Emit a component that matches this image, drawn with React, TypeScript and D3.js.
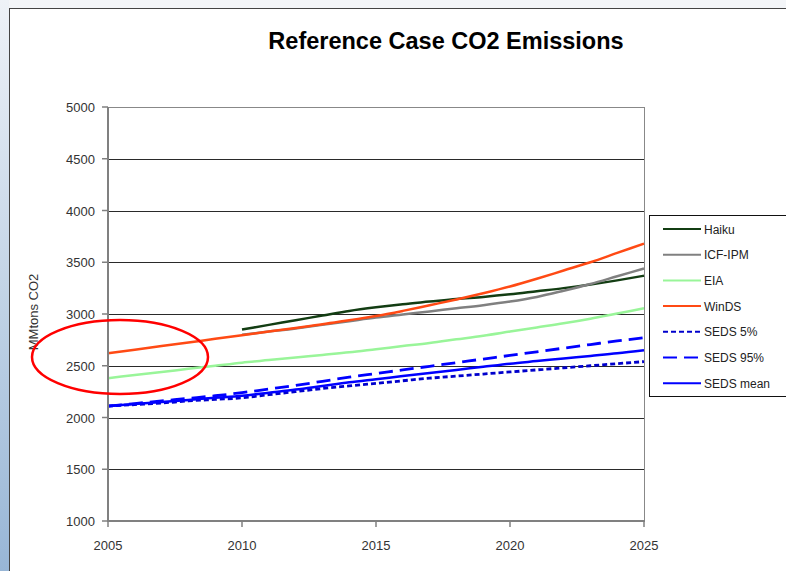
import { scaleLinear, line as d3_line, curveMonotoneX } from "d3";

const years = [2005, 2006, 2007, 2008, 2009, 2010, 2011, 2012, 2013, 2014, 2015, 2016, 2017, 2018, 2019, 2020, 2021, 2022, 2023, 2024, 2025];

const haiku = [null, null, null, null, null, 2850, 2895, 2940, 2985, 3030, 3065, 3095, 3120, 3145, 3165, 3190, 3220, 3250, 3285, 3325, 3370];
const icfIpm = [null, null, null, null, null, 2800, 2830, 2860, 2895, 2930, 2965, 2995, 3025, 3055, 3085, 3120, 3165, 3225, 3290, 3365, 3440];
const eia = [2380, 2410, 2440, 2470, 2500, 2530, 2555, 2580, 2605, 2630, 2660, 2690, 2720, 2755, 2790, 2830, 2870, 2910, 2955, 3005, 3055];
const winds = [2620, 2655, 2690, 2725, 2760, 2795, 2830, 2865, 2900, 2940, 2980, 3030, 3085, 3140, 3200, 3265, 3340, 3420, 3500, 3590, 3680];
const seds5 = [2110, 2125, 2140, 2160, 2175, 2190, 2220, 2250, 2280, 2305, 2330, 2355, 2380, 2400, 2420, 2440, 2460, 2480, 2500, 2520, 2540];
const seds95 = [2110, 2135, 2160, 2185, 2210, 2240, 2275, 2310, 2350, 2390, 2425, 2460, 2495, 2530, 2565, 2600, 2635, 2670, 2705, 2740, 2770];
const sedsMean = [2110, 2130, 2150, 2170, 2190, 2210, 2240, 2270, 2305, 2340, 2370, 2400, 2430, 2460, 2490, 2520, 2545, 2570, 2595, 2620, 2650];

const yTicks = [1000, 1500, 2000, 2500, 3000, 3500, 4000, 4500, 5000];
const xTicks = [2005, 2010, 2015, 2020, 2025];

const series = [
  { name: "Haiku", values: haiku, color: "#133d13", dash: "" },
  { name: "ICF-IPM", values: icfIpm, color: "#808080", dash: "" },
  { name: "EIA", values: eia, color: "#99f599", dash: "" },
  { name: "WinDS", values: winds, color: "#ff4a14", dash: "" },
  { name: "SEDS 5%", values: seds5, color: "#0000cc", dash: "5,3" },
  { name: "SEDS 95%", values: seds95, color: "#0000ff", dash: "14,7" },
  { name: "SEDS mean", values: sedsMean, color: "#0000ff", dash: "" },
];

const W = 786;
const H = 571;
const font = "Arial, 'Liberation Sans', sans-serif";

export default function App() {
  const x = scaleLinear().domain([2005, 2025]).range([108, 644]);
  const y = scaleLinear().domain([1000, 5000]).range([521, 107]);

  const mkLine = (vals: (number | null)[]) =>
    d3_line<number>()
      .defined((_, i) => vals[i] != null)
      .x((d) => x(d))
      .y((_, i) => y(vals[i] as number))
      .curve(curveMonotoneX)(years);

  return (
    <div style={{ position: "fixed", left: 0, top: 0 }}>
      <svg width={W} height={H} style={{ display: "block", fontFamily: font }}>
        <defs>
          <linearGradient id="side" x1="0" y1="0" x2="0" y2="1">
            <stop offset="0" stopColor="#eef2f7" />
            <stop offset="1" stopColor="#98b6d6" />
          </linearGradient>
        </defs>
        <rect x={0} y={0} width={W} height={H} fill="#ffffff" />
        <rect x={0} y={0} width={W} height={8} fill="#f3f5f8" />
        <rect x={0} y={0} width={9} height={H} fill="url(#side)" />
        <line x1={9} x2={W} y1={8.5} y2={8.5} stroke="#444" strokeWidth={1} />
        <line x1={9.5} x2={9.5} y1={8} y2={H} stroke="#444" strokeWidth={1} />

        {/* title */}
        <text x={446} y={49} textAnchor="middle" fontSize={23.5} fontWeight="bold" fill="#000">
          Reference Case CO2 Emissions
        </text>

        {/* grid lines */}
        {yTicks.slice(1, -1).map((t) => (
          <line key={t} x1={108} x2={644} y1={Math.round(y(t)) + 0.5} y2={Math.round(y(t)) + 0.5} stroke="#2a2a2a" strokeWidth={1} />
        ))}
        {/* plot frame top/right */}
        <line x1={108} x2={644.5} y1={107.5} y2={107.5} stroke="#888" strokeWidth={1} />
        <line x1={644.5} x2={644.5} y1={107} y2={521} stroke="#888" strokeWidth={1} />

        {/* series */}
        {series.map((s) => (
          <path key={s.name} d={mkLine(s.values) ?? ""} fill="none" stroke={s.color} strokeWidth={s.dash ? 2.8 : 2.5} strokeDasharray={s.dash || undefined} />
        ))}

        {/* axes */}
        <line x1={108} x2={108} y1={107} y2={522} stroke="#808080" strokeWidth={2} />
        <line x1={107} x2={645} y1={521} y2={521} stroke="#808080" strokeWidth={2} />
        {yTicks.map((t) => (
          <g key={t}>
            <line x1={102} x2={108} y1={y(t)} y2={y(t)} stroke="#808080" strokeWidth={1.5} />
            <text x={95} y={y(t) + 5} textAnchor="end" fontSize={13} fill="#333">{t}</text>
          </g>
        ))}
        {xTicks.map((t) => (
          <g key={t}>
            <line x1={x(t)} x2={x(t)} y1={521} y2={527} stroke="#808080" strokeWidth={1.5} />
            <text x={x(t)} y={550} textAnchor="middle" fontSize={13} fill="#333">{t}</text>
          </g>
        ))}
        <text transform="translate(38,312) rotate(-90)" textAnchor="middle" fontSize={13} fill="#333">MMtons CO2</text>

        {/* highlight ellipse */}
        <ellipse cx={120} cy={357} rx={88} ry={37} fill="none" stroke="#ff0000" strokeWidth={2.5} />

        {/* legend */}
        <rect x={649.5} y={215.5} width={140} height={181} fill="#fff" stroke="#111" strokeWidth={1} />
        {series.map((s, i) => (
          <g key={s.name} transform={`translate(0,${229 + i * 25.7})`}>
            <line x1={663} x2={701} y1={0} y2={0} stroke={s.color} strokeWidth={2} strokeDasharray={s.dash || undefined} />
            <text x={704} y={4.5} fontSize={12} fill="#222">{s.name}</text>
          </g>
        ))}
      </svg>
    </div>
  );
}
